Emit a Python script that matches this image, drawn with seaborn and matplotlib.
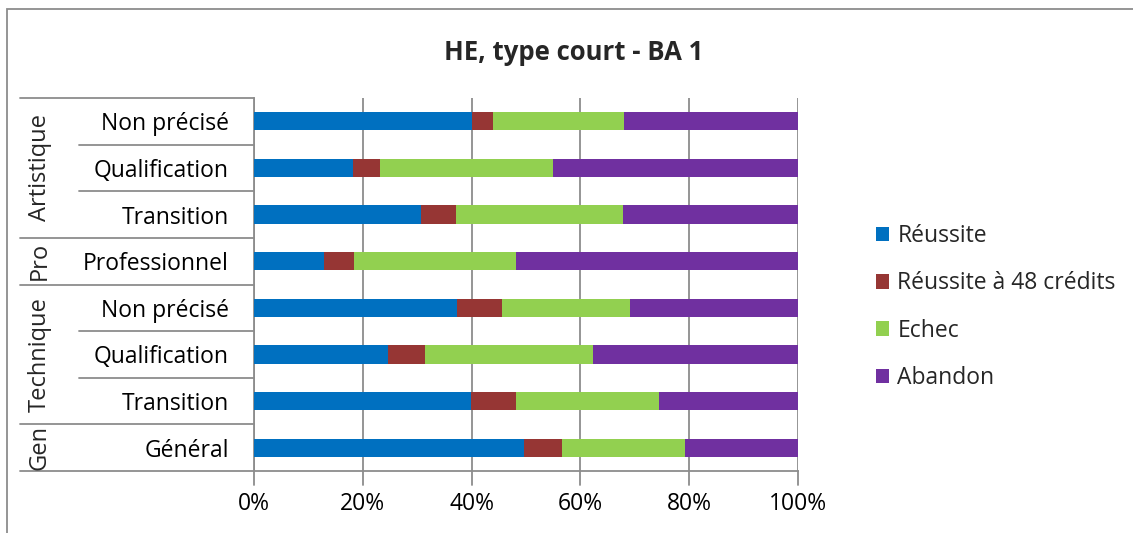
import pandas as pd
import matplotlib.pyplot as plt
import seaborn as sns
from matplotlib.patches import Patch, Rectangle
from matplotlib.lines import Line2D
import matplotlib.transforms as mtransforms

# categories, top to bottom
groups = ["Artistique", "Artistique", "Artistique", "Pro",
          "Technique", "Technique", "Technique", "Gen"]
labels = ["Non précisé", "Qualification", "Transition", "Professionnel",
          "Non précisé", "Qualification", "Transition", "Général"]

# shares in %
reussite = [40.0, 18.2, 30.7, 12.8, 37.3, 24.6, 39.9, 49.6]
reussite_48 = [4.0, 5.0, 6.4, 5.6, 8.2, 6.9, 8.2, 7.1]
echec = [24.0, 31.8, 30.7, 29.7, 23.7, 30.9, 26.4, 22.6]
abandon = [32.0, 45.0, 32.2, 51.9, 30.8, 37.6, 25.5, 20.7]

series = ["Réussite", "Réussite à 48 crédits", "Echec", "Abandon"]
colors = ["#0070c0", "#963634", "#92d050", "#7030a0"]

sns.set_theme(style="white")
plt.rcParams['font.family'] = ['Open Sans', 'DejaVu Sans']

df = pd.DataFrame({"row": range(len(labels)), "label": labels,
                   "Réussite": reussite, "Réussite à 48 crédits": reussite_48,
                   "Echec": echec, "Abandon": abandon})
df["row"] = df["row"].astype(str)
cum = df[series].cumsum(axis=1)
cum = cum.div(cum["Abandon"], axis=0) * 100

W, H = 1133, 533
fig = plt.figure(figsize=(W / 100, H / 100), dpi=100)
ax = fig.add_axes([254 / W, 1 - 471 / H, (798 - 254) / W, (471 - 98) / H])

# stacked bars: draw cumulative totals from the widest down
for name, col in zip(series[::-1], colors[::-1]):
    sns.barplot(x=cum[name], y=df["row"], orient="h", color=col,
                width=0.39, ax=ax, saturation=1, linewidth=0, zorder=3)

ax.set_xlim(0, 100)
ax.set_ylim(len(labels) - 0.5, -0.5)
ax.set_xticks([0, 20, 40, 60, 80, 100])
ax.set_xticklabels([f"{v}%" for v in [0, 20, 40, 60, 80, 100]], fontsize=16.5)
ax.tick_params(axis="x", length=0, pad=15, colors="black")
ax.set_yticks(range(len(labels)))
ax.set_yticklabels(labels, fontsize=16.5)
ax.tick_params(axis="y", length=0, pad=18, colors="black")
ax.set_xlabel("")
ax.set_ylabel("")
ax.grid(axis="x", color="#8c8c8c", linewidth=1.3, zorder=0)
for s in ["top", "right"]:
    ax.spines[s].set_visible(False)
ax.spines["left"].set_color("#8c8c8c")
ax.spines["left"].set_linewidth(1.3)
ax.spines["bottom"].set_color("#8c8c8c")
ax.spines["bottom"].set_linewidth(1.3)

# x tick marks below axis
trans_x = mtransforms.blended_transform_factory(ax.transData, ax.transAxes)
for v in [0, 20, 40, 60, 80, 100]:
    ax.add_line(Line2D([v, v], [0, -14 / 373], transform=trans_x, color="#8c8c8c",
                       linewidth=1.3, clip_on=False))

# hierarchical category separators
trans_y = mtransforms.blended_transform_factory(ax.transAxes, ax.transData)
x_outer = (20 - 254) / 544
x_inner = (79 - 254) / 544
bounds = [i - 0.5 for i in range(len(labels) + 1)]
for b in bounds:
    above = groups[int(b - 0.5)] if b > 0 else None
    below = groups[int(b + 0.5)] if b + 0.5 < len(groups) else None
    x0 = x_outer if above != below else x_inner
    ax.add_line(Line2D([x0, 0], [b, b], transform=trans_y, color="#8c8c8c",
                       linewidth=1.3, clip_on=False))

# group labels
seen = []
for g in groups:
    if g not in seen:
        seen.append(g)
for g in seen:
    idx = [i for i, gg in enumerate(groups) if gg == g]
    ax.text((40 - 254) / 544, sum(idx) / len(idx), g, transform=trans_y,
            rotation=90, ha="center", va="center", fontsize=17)

fig.text(574 / W, 1 - 52 / H, "HE, type court - BA 1", ha="center", va="center",
         fontsize=18.5, fontweight="bold")

handles = [Patch(facecolor=c, edgecolor="none") for c in colors]
fig.legend(handles, series, loc="center left", bbox_to_anchor=(855 / W, 1 - 307 / H),
           frameon=False, fontsize=16.5, handlelength=0.6, handleheight=0.6,
           handletextpad=0.35, labelspacing=1.02)

# chart frame
fig.patches.append(Rectangle((7 / W, -0.05), 1.05, 1 - 9 / H + 0.05,
                             transform=fig.transFigure, fill=False,
                             edgecolor="#8c8c8c", linewidth=1.3))

fig.savefig("out.png", dpi=100)
